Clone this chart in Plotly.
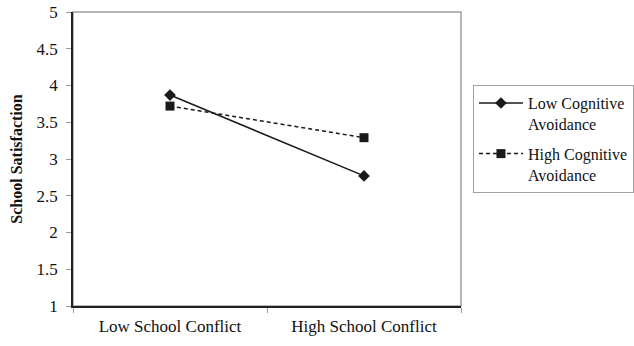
import plotly.graph_objects as go

categories = ["Low School Conflict", "High School Conflict"]
low_cog = [3.87, 2.77]
high_cog = [3.72, 3.29]
series_names = ["Low Cognitive<br>Avoidance", "High Cognitive<br>Avoidance"]
y_ticks = [1, 1.5, 2, 2.5, 3, 3.5, 4, 4.5, 5]

FONT = "Liberation Serif"

fig = go.Figure()
fig.add_trace(go.Scatter(
    x=categories, y=low_cog, name=series_names[0], mode="lines+markers",
    legendgroup="a",
    line=dict(color="#1a1a1a", width=1.5),
    marker=dict(symbol="diamond", size=9, color="#1a1a1a"),
))
fig.add_trace(go.Scatter(
    x=categories, y=high_cog, name=series_names[1], mode="lines+markers",
    legendgroup="b",
    line=dict(color="#1a1a1a", width=1.5, dash="4px,3px"),
    marker=dict(symbol="square", size=9, color="#1a1a1a"),
))

fig.add_shape(type="rect", xref="paper", yref="paper", x0=0, x1=1, y0=0, y1=1,
              line=dict(color="#a0a0a0", width=1.5), layer="below")

fig.update_layout(
    autosize=False,
    width=634, height=346,
    margin=dict(l=73, r=173, t=12, b=40),
    paper_bgcolor="white", plot_bgcolor="white",
    font=dict(family=FONT, size=16, color="#111"),
    showlegend=True,
    legend=dict(
        xref="container", yref="container",
        x=0.746, y=0.754, xanchor="left", yanchor="top",
        bordercolor="#a0a0a0", borderwidth=1,
        font=dict(family=FONT, size=16, color="#111"),
        valign="top", tracegroupgap=6,
        itemwidth=44,
    ),
    xaxis=dict(
        type="category", range=[-0.5, 1.5], tickson="boundaries",
        showline=True, linecolor="#222", linewidth=1.5,
        ticks="outside", ticklen=5, tickcolor="#999",
        showgrid=False, zeroline=False, automargin=False,
        ticklabelstandoff=4,
        tickfont=dict(family=FONT, size=17, color="#111"),
    ),
    yaxis=dict(
        range=[1, 5], tickvals=y_ticks, ticktext=[f"{v:g}" for v in y_ticks],
        showline=True, linecolor="#222", linewidth=1.5,
        ticks="outside", ticklen=5, tickcolor="#999",
        showgrid=False, zeroline=False, automargin=False,
        ticklabelstandoff=5,
        tickfont=dict(family=FONT, size=17, color="#111"),
        title=dict(text="<b>School Satisfaction</b>", standoff=10,
                   font=dict(family=FONT, size=16, color="#111")),
    ),
)

fig.write_html(
    "out.html",
    config={"displayModeBar": False, "responsive": False},
    post_script=(
        "document.documentElement.style.overflow='hidden';"
        "document.body.style.overflow='hidden';"
        "document.body.style.margin='0';document.body.style.padding='0';"
    ),
)
